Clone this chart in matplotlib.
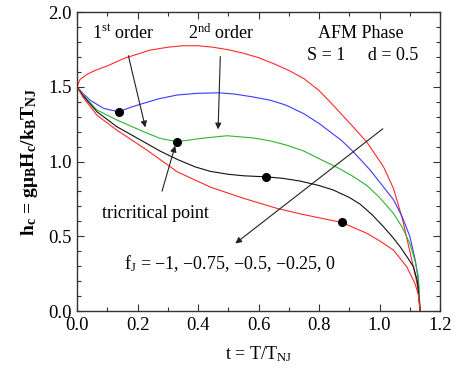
import numpy as np
import matplotlib
matplotlib.use("Agg")
import matplotlib.pyplot as plt
from matplotlib.ticker import MultipleLocator, FormatStrFormatter

matplotlib.rcParams["font.family"] = ["Liberation Serif", "DejaVu Serif"]
matplotlib.rcParams["mathtext.fontset"] = "custom"
matplotlib.rcParams["mathtext.rm"] = "Liberation Serif"
matplotlib.rcParams["mathtext.it"] = "Liberation Serif:italic"
matplotlib.rcParams["mathtext.bf"] = "Liberation Serif:bold"
matplotlib.rcParams["font.size"] = 13

# critical field curves, f_J = -1 ... 0
t_m100 = [0, 0.01, 0.034, 0.06, 0.10, 0.155, 0.24, 0.30, 0.35, 0.40, 0.45, 0.50,
          0.55, 0.60, 0.65, 0.70, 0.75, 0.80, 0.836, 0.90, 0.958, 1.013, 1.046,
          1.075, 1.10, 1.12, 1.128, 1.134]
h_m100 = [1.5, 1.55, 1.585, 1.61, 1.64, 1.69, 1.745, 1.765, 1.775, 1.775, 1.765, 1.748,
          1.725, 1.695, 1.655, 1.61, 1.555, 1.475, 1.40, 1.26, 1.13, 0.965, 0.82,
          0.62, 0.40, 0.22, 0.14, 0.0]

t_m075 = [0, 0.02, 0.044, 0.088, 0.138, 0.18, 0.22, 0.27, 0.33, 0.40, 0.47, 0.52,
          0.58, 0.64, 0.69, 0.75, 0.80, 0.836, 0.875, 0.913, 0.969, 1.013, 1.046,
          1.075, 1.10, 1.118, 1.128, 1.134]
h_m075 = [1.5, 1.455, 1.41, 1.356, 1.333, 1.365, 1.39, 1.42, 1.445, 1.457, 1.46, 1.452,
          1.433, 1.41, 1.378, 1.32, 1.255, 1.20, 1.14, 1.066, 0.943, 0.83, 0.745,
          0.63, 0.50, 0.34, 0.21, 0.0]

t_m050 = [0, 0.02, 0.066, 0.132, 0.22, 0.275, 0.331, 0.408, 0.496, 0.583, 0.64, 0.693,
          0.75, 0.82, 0.87, 0.913, 0.958, 1.00, 1.046, 1.075, 1.10, 1.118, 1.128, 1.134]
h_m050 = [1.5, 1.445, 1.345, 1.278, 1.20, 1.155, 1.133, 1.155, 1.173, 1.158, 1.138, 1.11,
          1.07, 1.00, 0.95, 0.90, 0.84, 0.76, 0.653, 0.56, 0.453, 0.33, 0.23, 0.0]

t_m025 = [0, 0.02, 0.066, 0.132, 0.22, 0.275, 0.331, 0.39, 0.44, 0.50, 0.551, 0.625,
          0.68, 0.737, 0.80, 0.847, 0.90, 0.936, 0.975, 1.013, 1.045, 1.068, 1.095,
          1.112, 1.125, 1.134]
h_m025 = [1.5, 1.44, 1.333, 1.233, 1.133, 1.07, 1.015, 0.965, 0.935, 0.915, 0.905, 0.898,
          0.888, 0.87, 0.84, 0.81, 0.76, 0.715, 0.645, 0.564, 0.49, 0.43, 0.35,
          0.296, 0.20, 0.0]

t_000 = [0, 0.02, 0.066, 0.132, 0.231, 0.331, 0.44, 0.551, 0.661, 0.75, 0.875, 0.958,
         1.00, 1.046, 1.09, 1.117, 1.128, 1.134]
h_000 = [1.5, 1.43, 1.31, 1.21, 1.077, 0.932, 0.83, 0.754, 0.687, 0.645, 0.593, 0.52,
         0.47, 0.408, 0.296, 0.185, 0.11, 0.0]

# tricritical points
t_tcp = [0.138, 0.331, 0.625, 0.875]
h_tcp = [1.333, 1.133, 0.898, 0.593]

curves = [(t_m100, h_m100, "#ff2a2a"),
          (t_m075, h_m075, "#3a3aff"),
          (t_m050, h_m050, "#2fb52f"),
          (t_m025, h_m025, "#111111"),
          (t_000, h_000, "#ff2a2a")]

fig = plt.figure(figsize=(4.57, 3.78), dpi=100)
ax = fig.add_axes([0.1685, 0.177, 0.7945, 0.791])

for t, h, c in curves:
    ax.plot(t, h, color=c, lw=0.8)
ax.plot(t_tcp, h_tcp, "o", color="black", ms=5.5, zorder=5)

arrow = dict(arrowstyle="-|>", color="#222222", lw=0.8, mutation_scale=9)
ax.annotate(r"1$^{\mathrm{st}}$ order", xy=(0.228, 1.211), xytext=(0.152, 1.86),
            ha="center", va="center", arrowprops=dict(shrinkA=8, **arrow))
ax.annotate(r"2$^{\mathrm{nd}}$ order", xy=(0.466, 1.197), xytext=(0.476, 1.86),
            ha="center", va="center", arrowprops=dict(shrinkA=8, **arrow))
ax.annotate("tricritical point", xy=(0.327, 1.124), xytext=(0.26, 0.655),
            ha="center", va="center", arrowprops=dict(shrinkA=8, shrinkB=2, **arrow))
ax.annotate("", xy=(0.516, 0.441), xytext=(1.018, 1.231), arrowprops=arrow)
ax.text(0.507, 0.32, r"f$_\mathrm{J}$ = −1, −0.75, −0.5, −0.25, 0",
        ha="center", va="center")
ax.text(0.937, 1.86, "AFM Phase", ha="center", va="center")
ax.text(0.943, 1.712, "S = 1     d = 0.5", ha="center", va="center")

ax.set_xlim(0, 1.2)
ax.set_ylim(0, 2.0)
ax.xaxis.set_major_locator(MultipleLocator(0.2))
ax.xaxis.set_minor_locator(MultipleLocator(0.1))
ax.yaxis.set_major_locator(MultipleLocator(0.5))
ax.yaxis.set_minor_locator(MultipleLocator(0.1))
ax.xaxis.set_major_formatter(FormatStrFormatter("%.1f"))
ax.yaxis.set_major_formatter(FormatStrFormatter("%.1f"))
ax.tick_params(which="both", direction="in", top=True, right=True,
               color="#333333", width=0.8, labelsize=13.5)
ax.tick_params(which="major", length=5, pad=4)
ax.tick_params(which="minor", length=3)
for s in ax.spines.values():
    s.set_color("#333333")
    s.set_linewidth(1.0)

ax.set_xlabel(r"t = T/T$_\mathrm{NJ}$", fontsize=13, labelpad=8)
ax.set_ylabel(r"h$_\mathbf{c}$ = gμ$_\mathbf{B}$H$_\mathbf{c}$/k$_\mathbf{B}$T$_\mathbf{NJ}$",
              fontsize=14, labelpad=6, fontweight="bold")

fig.savefig("out.png", dpi=100)
